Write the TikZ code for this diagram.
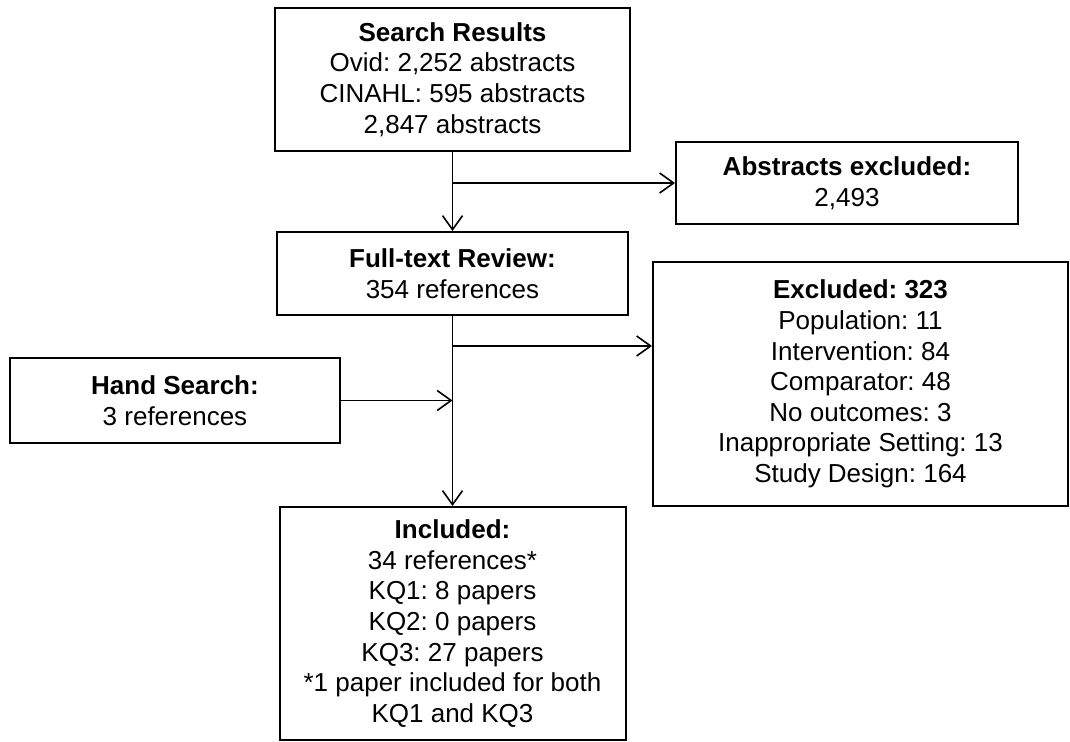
\documentclass[tikz,border=0pt]{standalone}
\usepackage{fontspec}
\setmainfont{Liberation Sans}
\usetikzlibrary{arrows.meta}
\frenchspacing

\tikzset{
  box/.style={draw, line width=1pt, align=center, inner sep=0pt,
    font=\fontsize{13}{15.3}\selectfont},
  flow/.style={-{Straight Barb[length=7pt,width=10pt]}, line width=0.8pt},
}

\begin{document}
\begin{tikzpicture}[x=0.5pt,y=-0.5pt]
  \useasboundingbox (0,0) rectangle (1070,742);

  \node[box, minimum width=177.5pt, minimum height=71.5pt] (srch) at (452.5,79.5)
    {\textbf{Search Results}\\Ovid: 2,252 abstracts\\CINAHL: 595 abstracts\\2,847 abstracts};
  \node[box, minimum width=171pt, minimum height=41pt] (absx) at (847,183)
    {\textbf{Abstracts excluded:}\\2,493};
  \node[box, minimum width=175.5pt, minimum height=41.5pt] (full) at (452.5,273.5)
    {\textbf{Full-text Review:}\\354 references};
  \node[box, minimum width=207.5pt, minimum height=122pt] (excl) at (860.5,384)
    {\textbf{Excluded: 323}\\Population: 11\\Intervention: 84\\Comparator: 48\\No outcomes: 3\\Inappropriate Setting: 13\\Study Design: 164};
  \node[box, minimum width=165pt, minimum height=42.5pt] (hand) at (175,400.5)
    {\textbf{Hand Search:}\\3 references};
  \node[box, minimum width=173pt, minimum height=116.5pt] (incl) at (452.5,623.5)
    {\textbf{Included:}\\34 references*\\KQ1: 8 papers\\KQ2: 0 papers\\KQ3: 27 papers\\*1 paper included for both\\KQ1 and KQ3};

  % branch points on the main line
  \coordinate (b1) at (452.5,183);
  \coordinate (b2) at (452.5,346);
  \coordinate (h1) at (full.south |- hand.east);

  \draw[flow] (srch.south) -- (full.north);
  \draw[flow] (b1) -- (absx.west);
  \draw[flow] (full.south) -- (incl.north);
  \draw[flow] (b2) -- (b2 -| excl.west);
  \draw[flow] (hand.east) -- (h1);
\end{tikzpicture}
\end{document}
